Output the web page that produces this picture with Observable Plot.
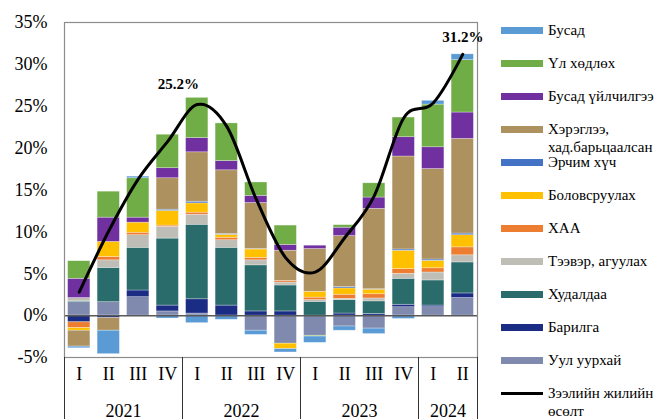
<!DOCTYPE html>
<html>
<head>
<meta charset="utf-8">
<script src="https://cdn.jsdelivr.net/npm/d3@7"></script>
<script src="https://cdn.jsdelivr.net/npm/@observablehq/plot@0.6"></script>
<style>
  body { margin: 0; background: #fff; }
  #chart { position: relative; width: 656px; height: 419px; overflow: hidden;
           font-family: "Liberation Serif", "Times New Roman", serif; color: #000; }
  #chart svg { position: absolute; left: 0; top: 0; }
  .swatch { position: absolute; left: 501px; width: 42px; height: 7px; }
  .lbl { position: absolute; left: 548px; font-family: "Liberation Serif", "Times New Roman", serif;
         font-size: 15px; line-height: 18px; white-space: pre; }
</style>
</head>
<body>
<div id="chart"></div>
<script>
// Quarters along the x axis, grouped by year
const quarters = ["I","II","III","IV","I","II","III","IV","I","II","III","IV","I","II"];
const years = ["2021", "2022", "2023", "2024"];
const quartersPerYear = [4, 4, 4, 2];

// Sectors, in stacking order (bottom of the stack first)
const sectors = [
  "Уул уурхай", "Барилга", "Худалдаа", "Тээвэр, агуулах", "ХАА", "Боловсруулах",
  "Эрчим хүч", "Хэрэглээ,\nхад.барьцаалсан", "Бусад үйлчилгээ", "Үл хөдлөх", "Бусад"
];
const sectorColors = [
  "#7f8aae", "#1b2c84", "#2a6b6b", "#bfbeb6", "#ed7d31", "#ffc000",
  "#4472c4", "#ad925f", "#7030a0", "#70ad47", "#5b9bd5"
];

// Contribution to annual loan growth, percentage points
const mining       = [1.6, 1.6, 2.2, 0.5, 0.25, 0, -1.8, -3.35, -2.4, -1.3, -1.55, 1.0, 1.0, 2.1];
const construction = [-0.8, -0.3, 0.8, 0.7, 1.7, 1.2, 0.5, 0.5, 0, 0.25, 0.2, 0.3, 0.2, 0.55];
const trade        = [0.1, 4.1, 5.1, 8.0, 8.9, 6.9, 5.5, 3.1, 1.65, 1.6, 1.5, 3.1, 3.0, 3.7];
const transport    = [0.4, 0.9, 1.5, 1.4, 1.2, 0.9, 0.6, 0.35, 0.2, 0.15, 0.35, 0.6, 0.95, 0.85];
const agriculture  = [-0.7, 0.4, 0.3, 0.15, 0.25, 0.3, 0.3, 0.2, 0.3, 0.5, 0.5, 0.55, 0.5, 0.95];
const manufacturing= [-0.3, 1.8, 1.2, 1.75, 1.1, 0.35, 1.0, -0.65, 0.7, 0.75, 0.55, 2.2, 0.9, 1.45];
const energy       = [0, 0, 0, 0.15, 0.2, 0.1, 0.05, 0, 0, 0.15, 0.05, 0.15, 0.15, 0.2];
const consumer     = [-1.9, -1.5, 0, 3.75, 5.9, 7.6, 5.5, 3.6, 5.1, 6.1, 9.6, 11.1, 10.8, 11.3];
const services     = [2.3, 2.9, 0.6, 1.2, 1.7, 1.1, 0.85, 0.7, 0.4, 1.0, 1.35, 2.3, 2.6, 3.15];
const realEstate   = [2.1, 3.1, 4.7, 4.0, 4.8, 4.5, 1.6, 2.3, -0.1, 0.3, 1.7, 2.35, 5.1, 6.25];
const other        = [-0.2, -2.8, 0.2, -0.35, -0.9, -0.5, -0.5, -0.4, -0.75, -0.5, -0.65, -0.4, 0.45, 0.7];

// Annual growth of total loans, %
const loanGrowth = [2.8, 10.1, 16.3, 20.8, 25.2, 22.6, 13.9, 6.9, 5.2, 9.3, 14.3, 23.6, 25.4, 31.2];
const lineLabel = "Зээлийн жилийн\nөсөлт";

const yTicks = [-5, 0, 5, 10, 15, 20, 25, 30, 35];

const sectorValues = [mining, construction, trade, transport, agriculture, manufacturing,
                      energy, consumer, services, realEstate, other];

const rows = [];
quarters.forEach((q, i) => {
  sectors.forEach((s, k) => rows.push({i, sector: s, value: sectorValues[k][i]}));
});

// Year boundaries and centres in quarter units
const yearStarts = quartersPerYear.map((n, k) => d3.sum(quartersPerYear.slice(0, k)));
const boundaries = [...yearStarts, d3.sum(quartersPerYear)];
const yearRows = years.map((y, k) => ({year: y, mid: yearStarts[k] + quartersPerYear[k] / 2}));

const pct = (v) => v.toFixed(1) + "%";

const svg = Plot.plot({
  width: 656,
  height: 419,
  marginLeft: 64,
  marginRight: 179,
  marginTop: 22,
  marginBottom: 62,
  style: {fontFamily: "'Liberation Serif', 'Times New Roman', serif", fontSize: "18px", color: "#000", background: "transparent"},
  x: {domain: [0, quarters.length], axis: null},
  y: {domain: [-5, 35], axis: null},
  color: {domain: sectors, range: sectorColors},
  marks: [
    Plot.rectY(rows, Plot.stackY({
      x: "i", x1: "i", x2: (d) => d.i + 1, y: "value", fill: "sector",
      insetLeft: 3.6, insetRight: 3.6,
      stroke: "#fff", strokeWidth: 0.6, strokeOpacity: 0.5
    })),
    Plot.ruleY([0], {stroke: "#595959", strokeWidth: 1.5}),
    Plot.frame({stroke: "#8c8c8c", strokeWidth: 1.2}),
    Plot.axisY({ticks: yTicks, tickFormat: (d) => d + "%", tickSize: 0, tickPadding: 17, fontSize: 18, label: null}),
    // two-level category axis below the plot
    Plot.ruleX(boundaries, {x: (d) => d, insetTop: 335, insetBottom: -62, stroke: "#333", strokeWidth: 1}),
    Plot.text(quarters, {x: (d, i) => i + 0.5, text: (d) => d, frameAnchor: "bottom", dy: 22, fontSize: 18}),
    Plot.text(yearRows, {x: "mid", text: "year", frameAnchor: "bottom", dy: 59, fontSize: 18}),
    // loan growth line, smoothed
    Plot.line(loanGrowth, {x: (d, i) => i + 0.5, y: (d) => d, curve: "cardinal", stroke: "#000", strokeWidth: 3}),
    Plot.text([4], {x: (i) => i + 0.5, y: (i) => loanGrowth[i], text: (i) => pct(loanGrowth[i]),
      dx: -19, dy: -20, fontSize: 15, fontWeight: "bold"}),
    Plot.text([13], {x: (i) => i + 0.5, y: (i) => loanGrowth[i], text: (i) => pct(loanGrowth[i]),
      dx: 0, dy: -17, fontSize: 15, fontWeight: "bold"})
  ]
});

const chart = document.getElementById("chart");
chart.appendChild(svg);

// Legend: sectors listed top-down in reverse stacking order, then the growth line
const legendEntries = sectors.map((s, k) => ({label: s, color: sectorColors[k], kind: "bar"})).reverse();
legendEntries.push({label: lineLabel, color: "#000", kind: "line"});
legendEntries.forEach((e, k) => {
  const cy = 30 + 33 * k;
  const sw = document.createElement("div");
  sw.className = "swatch";
  sw.style.background = e.color;
  if (e.kind === "line") { sw.style.height = "3px"; sw.style.top = (cy - 1.5) + "px"; }
  else sw.style.top = (cy - 3.5) + "px";
  chart.appendChild(sw);
  const t = document.createElement("div");
  t.className = "lbl";
  t.textContent = e.label;
  t.style.top = (cy - 9) + "px";
  chart.appendChild(t);
});
</script>
</body>
</html>
